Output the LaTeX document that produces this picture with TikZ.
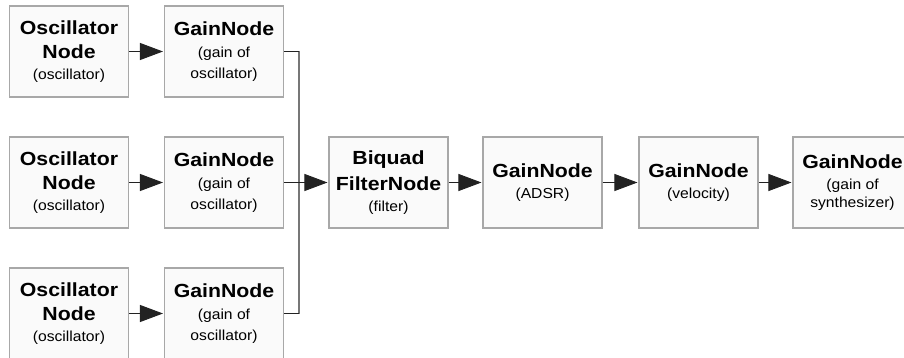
\documentclass[tikz,border=0pt]{standalone}
\usepackage{fontspec}
\setmainfont{Liberation Sans}
\usepackage{graphicx}
\usetikzlibrary{arrows.meta}
\definecolor{boxline}{HTML}{A8A8A8}
\definecolor{boxfill}{HTML}{FAFAFA}
\definecolor{wire}{HTML}{222222}
\definecolor{vwire}{HTML}{777777}
\newcommand{\ttl}[1]{{\fontsize{19}{21}\bfseries\scalebox{1.12}[1]{#1}}}
\newcommand{\sbt}[1]{{\fontsize{14.5}{21}\selectfont\scalebox{1.08}[1]{#1}}}
\tikzset{
  blk/.style={draw=boxline, line width=1.1pt, fill=boxfill, minimum width=119pt,
    minimum height=91pt, inner sep=0pt, align=center,
    font=\fontsize{14.5}{21}\selectfont},
  conn/.style={draw=wire, line width=1pt, -{Triangle[length=23pt,width=17pt]}, shorten >=1pt},
  plain/.style={draw=wire, line width=1pt},
  vplain/.style={draw=vwire, line width=1.3pt}
}
\begin{document}
\begin{tikzpicture}[x=1pt,y=-1pt]
\useasboundingbox (0,0) rectangle (904,358);
% column 1: oscillators
\node[blk] (o1) at (69,51.5) {\ttl{Oscillator}\\[2.5pt]\ttl{Node}\\\sbt{(oscillator)}};
\node[blk] (o2) at (69,182.5) {\ttl{Oscillator}\\[2.5pt]\ttl{Node}\\\sbt{(oscillator)}};
\node[blk] (o3) at (69,313.5) {\ttl{Oscillator}\\[2.5pt]\ttl{Node}\\\sbt{(oscillator)}};
% column 2: gains
\node[blk] (g1) at (224,51.5) {\ttl{GainNode}\\[1pt]\sbt{(gain of}\\\sbt{oscillator)}};
\node[blk] (g2) at (224,182.5) {\ttl{GainNode}\\[1pt]\sbt{(gain of}\\\sbt{oscillator)}};
\node[blk] (g3) at (224,313.5) {\ttl{GainNode}\\[1pt]\sbt{(gain of}\\\sbt{oscillator)}};
% chain
\node[blk] (bq) at (388.5,182.5) {\ttl{Biquad}\\[5pt]\ttl{FilterNode}\\\sbt{(filter)}};
\node[blk] (ga) at (542.5,182.5) {\ttl{GainNode}\\\sbt{(ADSR)}};
\node[blk] (gv) at (698.5,182.5) {\ttl{GainNode}\\\sbt{(velocity)}};
\node[blk] (gs) at (852.5,182.5) {\ttl{GainNode}\\\sbt{(gain of}\\[-3pt]\sbt{synthesizer)}};
% junction coordinates
\coordinate (jt) at (299,51.5);
\coordinate (jb) at (299,313.5);
% arrows
\draw[conn] (o1) -- (g1);
\draw[conn] (o2) -- (g2);
\draw[conn] (o3) -- (g3);
\draw[vplain] (jt) -- (jb);
\draw[plain] (g1.east) -- (jt);
\draw[plain] (g3.east) -- (jb);
\draw[conn] (g2) -- (bq);
\draw[conn] (bq) -- (ga);
\draw[conn] (ga) -- (gv);
\draw[conn] (gv) -- (gs);
\end{tikzpicture}
\end{document}
